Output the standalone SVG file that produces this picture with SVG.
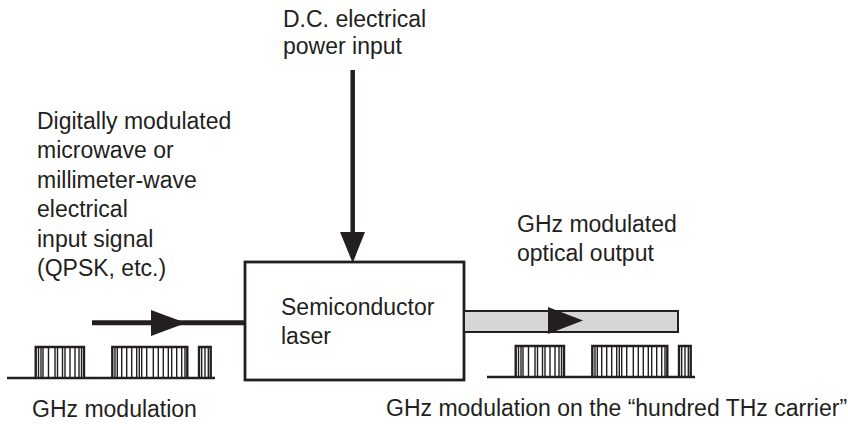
<svg xmlns="http://www.w3.org/2000/svg" width="848" height="424" viewBox="0 0 848 424">
<style>
text{font-family:"Liberation Sans",Arial,sans-serif;font-size:23px;fill:#231f20}
.ln{stroke:#231f20;fill:none}
.head{fill:#231f20;stroke:none}
.wv{stroke:#231f20;fill:none;stroke-width:1.4}
.wb{stroke:#231f20;fill:none;stroke-width:2.4}
</style>
<defs>
<g id="wave">
<path class="wb" d="M7 378H215"/>
<path class="wb" d="M35.7 378V347H84V378M112.3 378V347H187.3V378M199 378V347H210.7V378"/>
<path class="wv" d="M38.5 347V378M41 347V378M43 347V378M48.5 347V378M55 347V378M57.5 347V378M62.5 347V378M65 347V378M70 347V378M75 347V378M79 347V378M81.5 347V378M115 347V378M117.3 347V378M121.7 347V378M126.7 347V378M131.7 347V378M136.7 347V378M139.3 347V378M141.7 347V378M146.7 347V378M153.3 347V378M158.3 347V378M163.3 347V378M168.3 347V378M171.7 347V378M176.7 347V378M181.7 347V378M185 347V378M201.7 347V378M205 347V378M208.3 347V378"/>
</g>
</defs>
<rect width="848" height="424" fill="#fff"/>
<g id="dc-label">
<text x="283" y="27">D.C. electrical</text>
<text x="283" y="54">power input</text>
</g>
<g id="input-label">
<text x="37" y="129">Digitally modulated</text>
<text x="37" y="158">microwave or</text>
<text x="37" y="188">millimeter-wave</text>
<text x="37" y="217">electrical</text>
<text x="37" y="247">input signal</text>
<text x="37" y="276">(QPSK, etc.)</text>
</g>
<g id="output-label">
<text x="517" y="232">GHz modulated</text>
<text x="517" y="261">optical output</text>
</g>
<g id="laser">
<rect x="245" y="262" width="219" height="118" fill="#fff" stroke="#231f20" stroke-width="2.8"/>
<text x="281" y="315">Semiconductor</text>
<text x="281" y="344">laser</text>
</g>
<g id="input-wave">
<use href="#wave"/>
<text x="32" y="417">GHz modulation</text>
</g>
<g id="output-wave">
<use href="#wave" transform="translate(480,-1)"/>
<text x="386" y="416">GHz modulation on the “hundred THz carrier”</text>
</g>
<g id="connectors">
<path class="ln" stroke-width="4.5" d="M352.7 70V236"/>
<polygon class="head" points="340,232 365,232 352.7,263"/>
<path class="ln" stroke-width="5" d="M92 322.7H245"/>
<polygon class="head" points="151,310 151,336 186,323"/>
<rect x="464" y="311" width="214" height="21" fill="#d6d6d6" stroke="#231f20" stroke-width="2"/>
<polygon class="head" points="548,307 548,334 583,320.5"/>
</g>
</svg>
